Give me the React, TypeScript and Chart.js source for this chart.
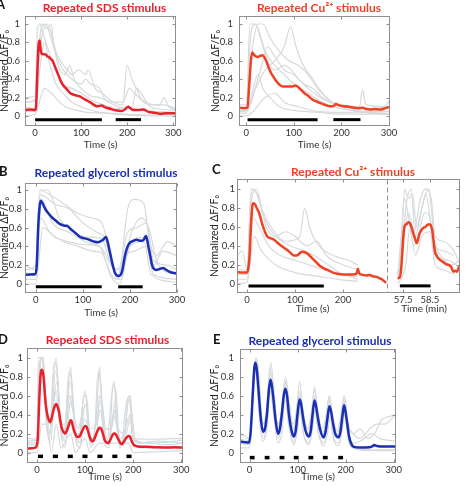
import React, { useEffect, useRef } from "react";
import { Chart, registerables } from "chart.js";

Chart.register(...registerables);

type Pt = [number, number];

const FONT = "Lato, 'Open Sans', 'DejaVu Sans', sans-serif";
const GREY = "#d6dadd";
const RED = "#e8212b";
const ORANGE = "#ef4123";
const BLUE = "#1b2fb4";
const FRAME = "#8f8f8f";
const TEXT = "#333333";

const yTicks = [0, 0.2, 0.4, 0.6, 0.8, 1];
const secTicks = [0, 100, 200, 300];
const secTicksC = [0, 100, 200];
const minTicksC = [57.5, 58.5];
const yTitle = "Normalized ΔF/F₀";

// ---------- Panel A (left): repeated SDS ----------
const sdsA: Pt[] = [[-22,0.065],[-10,0.07],[0,0.065],[2,0.1],[5,0.5],[8,0.8],[10,0.82],[12,0.72],[14,0.68],[18,0.67],[22,0.67],[26,0.65],[30,0.64],[34,0.62],[38,0.6],[42,0.55],[47,0.49],[54,0.4],[60,0.34],[69,0.29],[76,0.25],[85,0.23],[98,0.21],[108,0.18],[119,0.15],[128,0.12],[134,0.105],[140,0.11],[145,0.115],[150,0.1],[155,0.09],[165,0.075],[177,0.06],[188,0.055],[195,0.07],[202,0.1],[208,0.08],[213,0.065],[225,0.065],[235,0.07],[246,0.045],[260,0.035],[271,0.025],[285,0.03],[306,0.03]];
const sdsAStim: Pt[] = [[0,145],[175,230]];
const sdsAGrey: Pt[][] = [
  [[-22,0.15],[0,0.18],[5,0.95],[10,1.0],[20,0.85],[30,0.7],[45,0.5],[60,0.35],[80,0.3],[100,0.25],[120,0.18],[150,0.12],[180,0.08],[200,0.1],[230,0.06],[260,0.05],[306,0.04]],
  [[-22,0.2],[0,0.22],[8,0.75],[15,1.0],[25,0.95],[35,1.0],[40,0.8],[55,0.6],[70,0.5],[80,0.45],[95,0.5],[110,0.45],[115,0.5],[130,0.3],[145,0.25],[170,0.15],[190,0.12],[200,0.55],[210,0.4],[220,0.3],[235,0.15],[260,0.12],[280,0.12],[306,0.08]],
  [[-22,0.1],[0,0.08],[10,0.7],[25,1.0],[35,0.9],[50,0.55],[65,0.45],[75,0.55],[85,0.4],[100,0.3],[120,0.22],[140,0.2],[160,0.15],[180,0.1],[210,0.08],[220,0.3],[230,0.25],[250,0.1],[306,0.06]],
  [[-22,0.05],[0,0.05],[10,0.5],[20,0.8],[30,0.6],[45,0.35],[60,0.25],[80,0.15],[100,0.1],[130,0.05],[160,0.03],[200,0.02],[250,0.01],[306,0.02]],
  [[-22,0.15],[0,0.16],[12,0.9],[18,1.0],[28,0.95],[40,0.75],[55,0.55],[80,0.4],[100,0.35],[110,0.4],[120,0.35],[140,0.3],[150,0.2],[170,0.15],[190,0.15],[205,0.3],[215,0.25],[240,0.15],[270,0.12],[280,0.2],[290,0.1],[306,0.07]],
  [[-22,0.0],[0,0.02],[20,0.3],[35,0.25],[60,0.12],[100,0.05],[150,0.03],[200,0.01],[306,0.0]],
];

// ---------- Panel A (right): repeated Cu2+ ----------
const cuA: Pt[] = [[-15,0.09],[-5,0.085],[3,0.09],[6,0.3],[10,0.6],[13,0.69],[16,0.67],[20,0.65],[24,0.64],[28,0.65],[34,0.66],[38,0.64],[42,0.6],[47,0.53],[52,0.47],[58,0.42],[63,0.38],[70,0.34],[78,0.32],[86,0.32],[95,0.32],[104,0.33],[110,0.31],[116,0.28],[122,0.25],[130,0.22],[139,0.18],[147,0.16],[156,0.14],[166,0.12],[177,0.105],[184,0.11],[188,0.13],[196,0.115],[205,0.105],[215,0.1],[226,0.09],[236,0.085],[244,0.09],[252,0.075],[261,0.07],[270,0.075],[282,0.07],[292,0.085],[302,0.1]];
const cuAStim: Pt[] = [[3,150],[183,240]];
const cuAGrey: Pt[][] = [
  [[-15,0.05],[0,0.05],[8,1.0],[15,1.0],[25,0.95],[40,0.7],[60,0.55],[80,0.45],[100,0.35],[130,0.25],[160,0.15],[200,0.08],[250,0.05],[302,0.05]],
  [[-15,0.12],[0,0.12],[15,0.8],[25,1.0],[35,1.0],[50,0.85],[70,0.7],[90,0.6],[110,0.55],[130,0.45],[150,0.3],[180,0.15],[220,0.1],[260,0.08],[302,0.1]],
  [[-15,0.08],[0,0.08],[20,0.3],[40,0.5],[60,0.6],[80,0.75],[93,0.97],[105,0.75],[120,0.55],[140,0.4],[160,0.25],[180,0.15],[210,0.1],[240,0.05],[302,0.03]],
  [[-15,0.03],[0,0.03],[25,0.45],[35,0.3],[50,0.2],[70,0.1],[100,0.06],[150,0.04],[200,0.02],[302,0.02]],
  [[-15,0.1],[0,0.1],[10,0.9],[20,1.0],[30,0.85],[45,0.6],[60,0.5],[80,0.55],[95,0.5],[110,0.4],[130,0.3],[150,0.22],[175,0.15],[200,0.12],[238,0.1],[244,0.28],[252,0.12],[290,0.1],[302,0.18]],
  [[-15,0.06],[0,0.06],[30,0.5],[45,0.75],[60,0.65],[80,0.5],[100,0.45],[120,0.35],[140,0.3],[160,0.2],[190,0.12],[230,0.05],[302,0.02]],
  [[-15,0.0],[0,0.0],[40,0.2],[60,0.25],[80,0.15],[110,0.1],[150,0.05],[200,0.04],[260,0.05],[302,0.1]],
];

// ---------- Panel B: repeated glycerol ----------
const glyB: Pt[] = [[-23,0.096],[-12,0.1],[-1,0.106],[2,0.2],[5,0.6],[8,0.82],[10.5,0.886],[13,0.87],[16,0.84],[21,0.79],[27,0.75],[34,0.71],[41,0.68],[48,0.65],[55,0.63],[62,0.62],[66,0.62],[69,0.61],[75,0.58],[80,0.56],[87,0.53],[94,0.5],[100,0.49],[108,0.48],[116,0.465],[125,0.45],[132,0.445],[136,0.45],[143,0.47],[149,0.5],[153,0.44],[157,0.35],[161,0.255],[165,0.17],[168,0.12],[172,0.09],[175,0.085],[180,0.095],[184,0.15],[189,0.29],[193,0.37],[196,0.41],[200,0.44],[203,0.45],[208,0.46],[213,0.47],[218,0.465],[224,0.46],[229,0.47],[234,0.51],[237,0.46],[240,0.38],[244,0.28],[247,0.2],[251,0.16],[256,0.15],[263,0.16],[270,0.17],[277,0.15],[284,0.13],[291,0.12],[300,0.113]];
const glyBStim: Pt[] = [[0,140],[175,227]];
const glyBGrey: Pt[][] = [
  [[-23,0.15],[0,0.2],[8,1.0],[30,0.95],[60,0.85],[90,0.75],[120,0.7],[140,0.65],[155,0.4],[170,0.15],[180,0.2],[195,0.8],[210,0.9],[230,0.85],[240,0.5],[255,0.3],[280,0.45],[300,0.4]],
  [[-23,0.05],[0,0.05],[10,0.7],[30,0.55],[60,0.45],[90,0.4],[120,0.35],[140,0.33],[160,0.1],[175,0.05],[190,0.3],[210,0.35],[235,0.4],[250,0.1],[300,0.05]],
  [[-23,0.1],[0,0.12],[10,1.0],[25,1.0],[50,0.7],[80,0.55],[110,0.5],[140,0.48],[160,0.2],[175,0.1],[195,0.55],[215,0.6],[235,0.65],[250,0.25],[280,0.2],[300,0.15]],
  [[-23,0.0],[0,0.0],[15,0.6],[40,0.5],[70,0.45],[100,0.42],[135,0.4],[160,0.08],[178,0.0],[200,0.4],[230,0.45],[245,0.1],[300,0.02]],
  [[-23,0.2],[0,0.15],[10,0.95],[40,0.85],[70,0.8],[100,0.65],[130,0.55],[145,0.5],[165,0.15],[180,0.05],[200,0.5],[225,0.7],[240,0.6],[260,0.2],[300,0.1]],
  [[-23,0.12],[0,0.1],[12,0.9],[35,0.65],[70,0.55],[105,0.45],[140,0.38],[160,0.2],[180,0.15],[205,0.45],[230,0.5],[250,0.2],[270,0.35],[300,0.3]],
];

// ---------- Panel C: repeated Cu2+ (seconds, then minutes) ----------
const cuCs: Pt[] = [[-21,0.125],[-10,0.12],[0,0.12],[3,0.18],[5.5,0.33],[8,0.6],[11,0.82],[13,0.85],[17,0.835],[20,0.8],[24,0.76],[28,0.7],[31,0.64],[35,0.58],[38,0.54],[42,0.5],[47,0.485],[55,0.47],[62,0.44],[69,0.41],[76,0.385],[83,0.36],[90,0.33],[97,0.3],[103,0.3],[107,0.31],[111,0.33],[116,0.34],[122,0.33],[128,0.31],[134,0.28],[140,0.25],[146,0.22],[152,0.19],[160,0.165],[166,0.15],[173,0.135],[179,0.12],[190,0.105],[200,0.1],[210,0.1],[221,0.1],[228,0.11],[231,0.16],[233,0.12],[237,0.1],[242,0.095],[248,0.09],[255,0.095],[262,0.08],[270,0.075],[276,0.06],[282,0.045],[288,0.02],[290,0.015]];
const cuCsStim: Pt[] = [[3,160]];
const cuCsGrey: Pt[][] = [
  [[-21,0.3],[-10,0.35],[0,0.15],[8,1.0],[20,0.95],[35,0.7],[60,0.5],[90,0.4],[120,0.35],[140,0.3],[170,0.2],[200,0.1],[231,0.08]],
  [[-21,0.1],[0,0.1],[10,0.9],[20,1.0],[30,0.8],[50,0.6],[80,0.45],[110,0.5],[120,0.8],[130,0.6],[150,0.4],[180,0.3],[210,0.25],[231,0.2]],
  [[-21,0.05],[0,0.05],[12,0.7],[25,0.6],[45,0.4],[70,0.3],[100,0.25],[130,0.2],[160,0.15],[200,0.1],[231,0.05]],
  [[-21,0.15],[0,0.15],[10,1.0],[25,0.9],[40,0.6],[60,0.5],[80,0.55],[100,0.5],[125,0.4],[145,0.45],[165,0.3],[200,0.2],[231,0.15]],
  [[-21,0.0],[0,0.02],[15,0.5],[30,0.35],[60,0.2],[100,0.12],[150,0.08],[200,0.04],[231,0.03]],
];
const cuCm: Pt[] = [[57.29,0.06],[57.375,0.07],[57.42,0.15],[57.46,0.3],[57.52,0.55],[57.57,0.62],[57.63,0.63],[57.69,0.65],[57.75,0.64],[57.81,0.6],[57.87,0.54],[57.94,0.48],[58.0,0.43],[58.05,0.46],[58.1,0.52],[58.17,0.56],[58.25,0.59],[58.33,0.6],[58.4,0.62],[58.47,0.63],[58.53,0.62],[58.59,0.56],[58.64,0.45],[58.69,0.34],[58.75,0.3],[58.81,0.27],[58.9,0.25],[59.0,0.23],[59.1,0.21],[59.2,0.2],[59.3,0.18],[59.38,0.13],[59.45,0.14],[59.52,0.13],[59.58,0.17],[59.63,0.2]];
const cuCmStim: Pt[] = [[57.375,58.525]];
const cuCmGrey: Pt[][] = [
  [[57.3,0.1],[57.45,0.5],[57.55,1.0],[57.7,0.9],[57.85,0.95],[58.0,0.6],[58.2,0.8],[58.45,1.0],[58.55,0.8],[58.7,0.4],[59.0,0.35],[59.4,0.3]],
  [[57.3,0.05],[57.45,0.3],[57.6,0.8],[57.8,1.0],[57.95,0.5],[58.1,0.65],[58.35,0.95],[58.55,0.6],[58.8,0.3],[59.2,0.25],[59.5,0.2]],
  [[57.3,0.0],[57.5,0.1],[57.6,0.2],[57.75,0.6],[57.95,0.3],[58.2,0.5],[58.5,0.55],[58.7,0.2],[59.0,0.15],[59.4,0.1]],
  [[57.3,0.08],[57.45,0.6],[57.55,0.9],[57.7,0.7],[57.9,0.4],[58.1,0.55],[58.3,0.75],[58.5,0.7],[58.65,0.45],[58.9,0.3],[59.3,0.2],[59.63,0.25]],
  [[57.3,0.1],[57.5,0.45],[57.7,0.75],[57.9,0.55],[58.15,0.9],[58.35,1.0],[58.55,0.9],[58.7,0.5],[59.0,0.45],[59.4,0.35],[59.63,0.2]],
];

// ---------- Panel D: pulsed SDS ----------
const sdsD: Pt[] = [[-21,0.042],[-10,0.045],[-3,0.053],[1.4,0.13],[4,0.45],[6,0.7],[8,0.84],[10,0.87],[12,0.85],[14,0.78],[16,0.64],[18,0.52],[21,0.41],[24,0.35],[27.6,0.32],[30,0.35],[34,0.44],[37,0.49],[40,0.51],[43,0.48],[46,0.42],[49,0.32],[52,0.25],[56,0.21],[59,0.2],[62,0.23],[65.5,0.28],[68,0.32],[70,0.34],[72,0.33],[74,0.29],[77,0.23],[80,0.19],[83,0.165],[87,0.165],[90,0.18],[94,0.23],[97,0.26],[100.7,0.28],[103,0.27],[107,0.21],[110,0.16],[114,0.12],[118,0.13],[122,0.18],[125,0.22],[128,0.25],[131,0.26],[134.5,0.24],[138,0.18],[141,0.13],[145,0.105],[148,0.1],[152,0.13],[156.6,0.18],[160,0.2],[162,0.2],[165,0.18],[169,0.14],[173,0.1],[176,0.088],[180,0.11],[186,0.158],[190,0.175],[193,0.17],[196,0.13],[200,0.088],[204,0.072],[207,0.067],[215,0.062],[228,0.06],[245,0.057],[269,0.053],[285,0.055],[303,0.053]];
const sdsDStim: Pt[] = [[2,12.5],[33,43.5],[64,74.5],[94.5,105],[125.5,136],[156.5,167],[186,196.5]];
const sdsDGrey: Pt[][] = [
  [[-21,0.1],[0,0.1],[3,1.0],[12,1.0],[18,0.4],[26,0.15],[33,0.7],[40,1.0],[46,0.5],[55,0.15],[62,0.5],[70,0.9],[76,0.4],[85,0.1],[95,0.5],[100,0.65],[106,0.3],[115,0.1],[125,0.5],[130,0.9],[136,0.3],[145,0.1],[155,0.6],[160,0.75],[166,0.3],[175,0.08],[185,0.5],[192,0.6],[198,0.2],[210,0.1],[250,0.12],[303,0.1]],
  [[-21,0.05],[0,0.05],[5,0.9],[12,1.0],[20,0.3],[28,0.1],[36,0.6],[42,0.75],[50,0.2],[58,0.05],[66,0.4],[72,0.6],[80,0.15],[90,0.05],[98,0.35],[104,0.3],[112,0.05],[122,0.3],[133,0.55],[140,0.1],[150,0.05],[158,0.4],[165,0.3],[172,0.05],[186,0.3],[194,0.4],[200,0.1],[220,0.05],[303,0.05]],
  [[-21,0.12],[0,0.13],[8,1.0],[14,0.9],[22,0.2],[30,0.3],[38,0.85],[44,0.7],[52,0.2],[60,0.2],[68,0.75],[74,0.6],[82,0.2],[92,0.2],[99,0.5],[104,0.45],[112,0.15],[124,0.2],[130,0.6],[136,0.5],[145,0.15],[156,0.3],[162,0.55],[170,0.15],[182,0.2],[190,0.55],[196,0.45],[205,0.12],[240,0.1],[303,0.13]],
  [[-21,0.0],[0,0.0],[10,0.3],[20,0.3],[30,0.0],[40,0.3],[50,0.05],[70,0.2],[80,0.0],[100,0.15],[110,0.0],[130,0.1],[160,0.1],[190,0.1],[200,0.0],[303,0.02]],
  [[-21,0.08],[0,0.08],[6,0.95],[13,1.0],[19,0.5],[27,0.2],[35,0.95],[41,0.9],[48,0.35],[57,0.12],[66,0.85],[72,0.75],[80,0.25],[90,0.1],[97,0.6],[103,0.6],[109,0.2],[118,0.08],[127,0.85],[133,0.7],[140,0.2],[150,0.08],[158,0.7],[164,0.65],[170,0.2],[180,0.08],[188,0.5],[194,0.6],[200,0.15],[230,0.1],[270,0.08],[303,0.1]],
  [[-21,0.15],[0,0.14],[5,0.8],[10,1.0],[16,0.7],[24,0.3],[34,0.5],[40,0.65],[47,0.3],[60,0.3],[68,0.6],[74,0.45],[85,0.25],[96,0.45],[102,0.5],[110,0.25],[124,0.3],[132,0.45],[140,0.25],[155,0.25],[162,0.45],[168,0.25],[185,0.2],[193,0.35],[200,0.15],[240,0.14],[303,0.15]],
];

// ---------- Panel E: pulsed glycerol ----------
const glyE: Pt[] = [[-20,0.117],[-10,0.11],[-1,0.106],[2,0.2],[5,0.45],[8,0.75],[10,0.9],[12.4,0.95],[15,0.88],[18,0.7],[21,0.5],[24,0.33],[28,0.22],[32,0.25],[36,0.4],[40,0.65],[43.4,0.77],[46,0.72],[50,0.55],[54,0.35],[59,0.2],[63,0.25],[67,0.4],[71,0.6],[74.5,0.675],[78,0.6],[82,0.4],[87,0.24],[92,0.17],[96,0.23],[100,0.42],[104,0.56],[107,0.52],[111,0.38],[116,0.24],[123,0.17],[127,0.22],[131,0.4],[135,0.55],[138,0.5],[142,0.37],[147,0.24],[154,0.16],[158,0.22],[162,0.36],[166,0.49],[169,0.45],[173,0.33],[178,0.2],[185,0.16],[189,0.22],[193,0.38],[196.5,0.5],[199,0.45],[202,0.35],[206,0.2],[209,0.13],[213,0.08],[216,0.064],[230,0.053],[250,0.057],[255,0.065],[259,0.08],[265,0.07],[278,0.064],[304,0.064]];
const glyEStim: Pt[] = [[0.5,10.5],[31.5,41.5],[62.5,72.5],[92,102],[122.5,132.5],[152.5,162.5],[184.5,194.5]];
const glyEGrey: Pt[][] = [
  [[-20,0.2],[0,0.15],[6,0.6],[13,1.0],[18,0.9],[25,0.4],[30,0.3],[37,0.5],[44,0.95],[50,0.7],[58,0.3],[64,0.35],[75,0.8],[82,0.55],[90,0.3],[97,0.4],[104,0.75],[110,0.5],[120,0.25],[128,0.4],[135,0.65],[142,0.45],[150,0.25],[158,0.35],[166,0.6],[172,0.4],[182,0.2],[190,0.4],[197,0.6],[205,0.3],[215,0.2],[230,0.15],[250,0.25],[265,0.3],[280,0.3],[304,0.4]],
  [[-20,0.1],[0,0.08],[6,0.5],[14,0.9],[20,0.65],[28,0.15],[36,0.3],[43,0.75],[50,0.5],[60,0.15],[66,0.3],[74,0.6],[82,0.3],[92,0.1],[99,0.3],[104,0.5],[112,0.2],[124,0.1],[130,0.3],[135,0.5],[144,0.2],[156,0.1],[162,0.3],[166,0.45],[175,0.15],[186,0.1],[192,0.3],[197,0.45],[206,0.15],[215,0.05],[240,0.03],[304,0.03]],
  [[-20,0.12],[0,0.1],[8,0.7],[12,0.95],[20,0.7],[27,0.25],[35,0.35],[42,0.9],[50,0.55],[58,0.25],[66,0.4],[74,0.75],[80,0.45],[91,0.2],[98,0.45],[104,0.65],[110,0.4],[122,0.2],[130,0.4],[136,0.6],[142,0.35],[153,0.18],[161,0.4],[166,0.55],[173,0.3],[185,0.18],[192,0.4],[198,0.55],[204,0.25],[215,0.1],[230,0.12],[255,0.2],[270,0.15],[304,0.12]],
  [[-20,0.05],[0,0.05],[7,0.6],[13,0.85],[20,0.4],[27,0.12],[36,0.25],[43,0.65],[50,0.4],[59,0.1],[67,0.2],[74,0.55],[81,0.3],[92,0.08],[100,0.25],[105,0.45],[112,0.2],[123,0.08],[131,0.25],[136,0.45],[143,0.2],[154,0.07],[162,0.2],[167,0.38],[174,0.15],[185,0.07],[193,0.25],[198,0.4],[206,0.12],[220,0.04],[260,0.02],[304,0.02]],
  [[-20,0.14],[0,0.13],[8,0.8],[13,1.0],[19,0.8],[27,0.3],[34,0.4],[43,0.85],[50,0.6],[59,0.3],[67,0.45],[75,0.75],[82,0.5],[92,0.25],[99,0.5],[104,0.6],[111,0.4],[123,0.25],[130,0.45],[135,0.7],[142,0.4],[154,0.22],[161,0.45],[166,0.6],[173,0.35],[185,0.22],[192,0.45],[197,0.6],[205,0.3],[215,0.2],[230,0.25],[245,0.15],[260,0.2],[275,0.35],[290,0.38],[304,0.4]],
];

interface PanelProps {
  box: [number, number, number, number];
  plot: [number, number, number, number];
  xRange: [number, number];
  yRange: [number, number];
  xTicks: number[];
  xTitle: string;
  showY: boolean;
  tickPad?: number;
  frameLeft: boolean;
  frameRight: "solid" | "dashed";
  rightTicks: boolean;
  title?: { text: string; color: string; x: number; y: number };
  letter?: { text: string; x: number; y: number };
  main: Pt[];
  mainColor: string;
  stim: Pt[];
  stimY: number;
  stimWidth: number;
  greys: Pt[][];
}

const toXY = (pts: Pt[]) => pts.map(([x, y]) => ({ x, y }));
const fmtY = (v: number) => (v === 0 ? "0" : v === 1 ? "1" : v.toFixed(1));

function Panel(p: PanelProps) {
  const ref = useRef<HTMLCanvasElement | null>(null);
  useEffect(() => {
    if (!ref.current) return;
    const [bx, by, bw, bh] = p.box;
    const [pl, pt, pr, pb] = p.plot;
    const yw = p.showY ? pl - bx : 0;
    const padLeft = p.showY ? 0 : pl - bx;
    const xh = by + bh - pb;

    const deco = {
      id: "deco",
      afterDatasetsDraw(chart: any) {
        const { ctx, chartArea: a, scales } = chart;
        const L = Math.round(a.left) + 0.5;
        const R = Math.round(a.right) - 0.5;
        const T = Math.round(a.top) + 0.5;
        const B = Math.round(a.bottom) - 0.5;
        const line = (x1: number, y1: number, x2: number, y2: number) => {
          ctx.beginPath();
          ctx.moveTo(x1, y1);
          ctx.lineTo(x2, y2);
          ctx.stroke();
        };
        ctx.save();
        ctx.strokeStyle = FRAME;
        ctx.lineWidth = 1;
        ctx.setLineDash([]);
        line(L - 0.5, T, R + 0.5, T);
        line(L - 0.5, B, R + 0.5, B);
        if (p.frameLeft) line(L, T, L, B);
        if (p.frameRight === "solid") line(R, T, R, B);
        const tl = 3;
        yTicks.forEach((v) => {
          const y = Math.round(scales.y.getPixelForValue(v)) + 0.5;
          if (p.frameLeft) line(L, y, L + tl, y);
          if (p.rightTicks) line(R, y, R - tl, y);
        });
        p.xTicks.forEach((v) => {
          const x = Math.round(scales.x.getPixelForValue(v)) + 0.5;
          line(x, B, x, B - tl);
          line(x, T, x, T + tl);
        });
        if (p.frameRight === "dashed") {
          ctx.setLineDash([5, 3]);
          line(R, T, R, B);
          ctx.setLineDash([]);
        }
        ctx.textBaseline = "middle";
        if (p.title) {
          ctx.font = `bold 12px ${FONT}`;
          ctx.fillStyle = p.title.color;
          ctx.textAlign = "center";
          ctx.fillText(p.title.text, p.title.x - bx, p.title.y - by);
        }
        if (p.letter) {
          ctx.font = `bold 13px ${FONT}`;
          ctx.fillStyle = "#111";
          ctx.textAlign = "left";
          ctx.fillText(p.letter.text, p.letter.x - bx, p.letter.y - by);
        }
        ctx.restore();
      },
    };

    const datasets: any[] = [
      {
        data: toXY(p.main),
        borderColor: p.mainColor,
        borderWidth: 2.5,
        pointRadius: 0,
        cubicInterpolationMode: "monotone",
        fill: false,
      },
      ...p.stim.map(([s, e]) => ({
        data: [
          { x: s, y: p.stimY },
          { x: e, y: p.stimY },
        ],
        borderColor: "#000",
        borderWidth: p.stimWidth,
        borderCapStyle: "butt",
        pointRadius: 0,
        fill: false,
      })),
      ...p.greys.map((g) => ({
        data: toXY(g),
        borderColor: GREY,
        borderWidth: 1.2,
        pointRadius: 0,
        cubicInterpolationMode: "monotone",
        fill: false,
      })),
    ];

    const chart = new Chart(ref.current, {
      type: "line",
      data: { datasets },
      plugins: [deco],
      options: {
        animation: false,
        responsive: false,
        maintainAspectRatio: false,
        events: [],
        layout: {
          padding: { top: pt - by, right: bx + bw - pr, left: padLeft, bottom: 0 },
        },
        plugins: {
          legend: { display: false },
          tooltip: { enabled: false },
          title: { display: false },
        },
        scales: {
          x: {
            type: "linear",
            min: p.xRange[0],
            max: p.xRange[1],
            afterBuildTicks: (s: any) => {
              s.ticks = p.xTicks.map((v) => ({ value: v }));
            },
            ticks: {
              callback: (v: any) => String(v),
              font: { family: FONT, size: 9.5 },
              color: TEXT,
              padding: 1,
              maxRotation: 0,
              autoSkip: false,
            },
            grid: { display: false, drawTicks: false },
            border: { display: false },
            title: {
              display: true,
              text: p.xTitle,
              font: { family: FONT, size: 10 },
              color: TEXT,
              padding: { top: 0, bottom: 1 },
            },
            afterFit: (s: any) => {
              s.height = xh;
              s.paddingLeft = 0;
              s.paddingRight = 0;
            },
          },
          y: {
            display: p.showY,
            min: p.yRange[0],
            max: p.yRange[1],
            afterBuildTicks: (s: any) => {
              s.ticks = yTicks.map((v) => ({ value: v }));
            },
            ticks: {
              callback: (v: any) => fmtY(Number(v)),
              font: { family: FONT, size: 9.5 },
              color: TEXT,
              padding: p.tickPad ?? 4,
              autoSkip: false,
            },
            grid: { display: false, drawTicks: false },
            border: { display: false },
            title: {
              display: true,
              text: yTitle,
              font: { family: FONT, size: 10.5, lineHeight: 0.9 },
              color: "#222",
              padding: { top: 0, bottom: 0 },
            },
            afterFit: (s: any) => {
              s.width = yw;
              s.paddingTop = 0;
              s.paddingBottom = 0;
            },
          },
        },
      } as any,
    });
    return () => chart.destroy();
  }, []);
  const [bx, by, bw, bh] = p.box;
  return (
    <canvas
      ref={ref}
      width={bw}
      height={bh}
      style={{ position: "absolute", left: bx, top: by, width: bw, height: bh }}
    />
  );
}

export default function App() {
  return (
    <div
      style={{
        position: "absolute",
        left: 0,
        top: 0,
        width: 474,
        height: 486,
        background: "#fff",
        overflow: "hidden",
      }}
    >
      <Panel
        box={[0, 0, 192, 152]}
        plot={[25, 16, 176, 126]}
        xRange={[-22, 306]}
        yRange={[-0.109, 1.087]}
        xTicks={secTicks}
        xTitle="Time (s)"
        showY
        tickPad={5}
        frameLeft
        frameRight="solid"
        rightTicks
        title={{ text: "Repeated SDS stimulus", color: RED, x: 104.5, y: 8 }}
        letter={{ text: "A", x: -4, y: 5 }}
        main={sdsA}
        mainColor={RED}
        stim={sdsAStim}
        stimY={-0.04}
        stimWidth={3}
        greys={sdsAGrey}
      />
      <Panel
        box={[211, 0, 195, 152]}
        plot={[239, 16, 390, 126]}
        xRange={[-15, 302]}
        yRange={[-0.109, 1.087]}
        xTicks={secTicks}
        xTitle="Time (s)"
        showY
        tickPad={6}
        frameLeft
        frameRight="solid"
        rightTicks
        title={{ text: "Repeated Cu²⁺ stimulus", color: ORANGE, x: 319, y: 8 }}
        main={cuA}
        mainColor={ORANGE}
        stim={cuAStim}
        stimY={-0.04}
        stimWidth={3}
        greys={cuAGrey}
      />
      <Panel
        box={[0, 160, 192, 160]}
        plot={[25, 183, 177, 293]}
        xRange={[-23, 300]}
        yRange={[-0.096, 1.0745]}
        xTicks={secTicks}
        xTitle="Time (s)"
        showY
        tickPad={3}
        frameLeft
        frameRight="solid"
        rightTicks
        title={{ text: "Repeated glycerol stimulus", color: BLUE, x: 106, y: 173 }}
        letter={{ text: "B", x: -1, y: 172 }}
        main={glyB}
        mainColor={BLUE}
        stim={glyBStim}
        stimY={-0.03}
        stimWidth={3}
        greys={glyBGrey}
      />
      <Panel
        box={[210, 160, 257, 156]}
        plot={[237, 179, 388, 293]}
        xRange={[-21, 293.7]}
        yRange={[-0.095, 1.105]}
        xTicks={secTicksC}
        xTitle="Time (s)"
        showY
        tickPad={2}
        frameLeft
        frameRight="dashed"
        rightTicks={false}
        title={{ text: "Repeated Cu²⁺ stimulus", color: ORANGE, x: 353, y: 172 }}
        letter={{ text: "C", x: 212, y: 170 }}
        main={cuCs}
        mainColor={ORANGE}
        stim={cuCsStim}
        stimY={-0.02}
        stimWidth={3}
        greys={cuCsGrey}
      />
      <Panel
        box={[386, 160, 84, 156]}
        plot={[388, 179, 460, 293]}
        xRange={[56.93, 59.63]}
        yRange={[-0.095, 1.105]}
        xTicks={minTicksC}
        xTitle="Time (min)"
        showY={false}
        frameLeft={false}
        frameRight="solid"
        rightTicks
        main={cuCm}
        mainColor={ORANGE}
        stim={cuCmStim}
        stimY={-0.02}
        stimWidth={3}
        greys={cuCmGrey}
      />
      <Panel
        box={[0, 330, 198, 154]}
        plot={[27, 348, 183, 463]}
        xRange={[-20.7, 303.4]}
        yRange={[-0.11, 1.1]}
        xTicks={secTicks}
        xTitle="Time (s)"
        showY
        tickPad={4}
        frameLeft
        frameRight="solid"
        rightTicks
        title={{ text: "Repeated SDS stimulus", color: RED, x: 107.5, y: 340 }}
        letter={{ text: "D", x: -2, y: 340 }}
        main={sdsD}
        mainColor={RED}
        stim={sdsDStim}
        stimY={-0.04}
        stimWidth={3.5}
        greys={sdsDGrey}
      />
      <Panel
        box={[210, 330, 202, 154]}
        plot={[240, 349, 396, 463]}
        xRange={[-19.9, 304.6]}
        yRange={[-0.11, 1.095]}
        xTicks={secTicks}
        xTitle="Time (s)"
        showY
        tickPad={6}
        frameLeft
        frameRight="solid"
        rightTicks
        title={{ text: "Repeated glycerol stimulus", color: BLUE, x: 320, y: 341 }}
        letter={{ text: "E", x: 213, y: 340 }}
        main={glyE}
        mainColor={BLUE}
        stim={glyEStim}
        stimY={-0.053}
        stimWidth={3.5}
        greys={glyEGrey}
      />
    </div>
  );
}
